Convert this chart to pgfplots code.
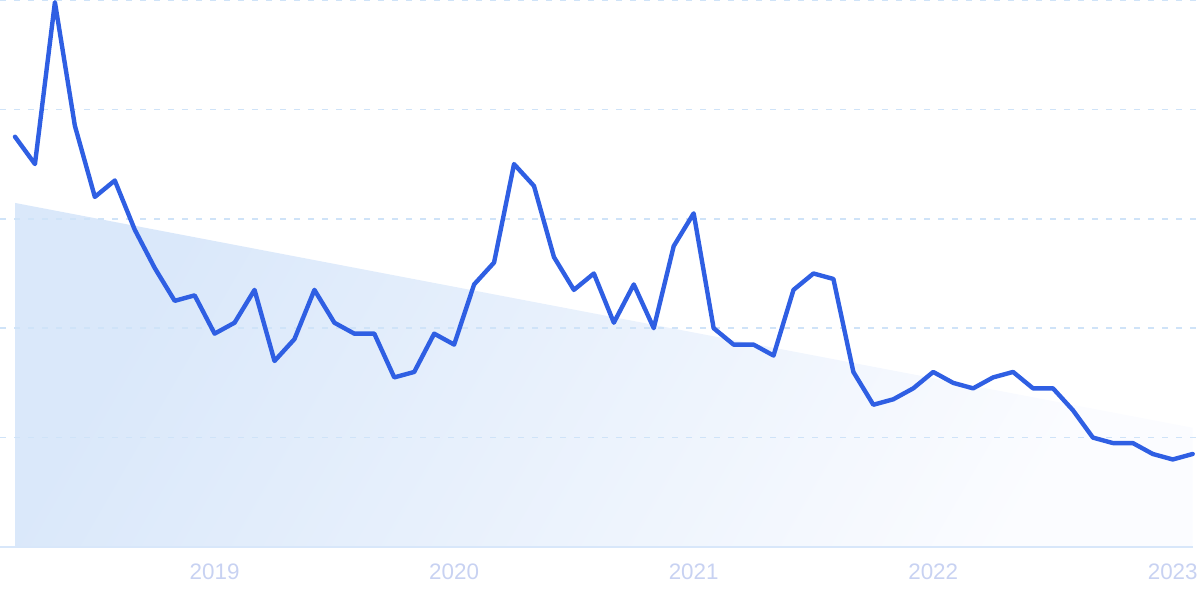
\documentclass[border=0pt]{standalone}
\usepackage{fontspec}
\setmainfont{Liberation Sans}
\usepackage{pgfplots}
\usepackage{pgfplotstable}
\pgfplotsset{compat=1.18}
\definecolor{linec}{HTML}{2F5FE3}
\definecolor{gridc}{HTML}{CFE3F8}
\definecolor{basec}{HTML}{D8E7FA}
\definecolor{labelc}{HTML}{C8D2F2}
\definecolor{areaA}{HTML}{DAE8FA}
\definecolor{areaB}{HTML}{FBFCFF}

\pgfplotstableread{
x y
0 75
1 70
2 99.6
3 77
4 64
5 67
6 58
7 51
8 45
9 46
10 39
11 41
12 47
13 34
14 38
15 47
16 41
17 39
18 39
19 31
20 32
21 39
22 37
23 48
24 52
25 70
26 66
27 53
28 47
29 50
30 41
31 48
32 40
33 55
34 61
35 40
36 37
37 37
38 35
39 47
40 50
41 49
42 32
43 26
44 27
45 29
46 32
47 30
48 29
49 31
50 32
51 29
52 29
53 25
54 20
55 19
56 19
57 17
58 16
59 17
}\datatable

\begin{document}
\begin{tikzpicture}
\begin{axis}[
  name=ax,
  scale only axis,
  width=600pt, height=299.5pt,
  xmin=-0.7515, xmax=59.366,
  ymin=-9.51, ymax=100,
  axis line style={draw=none},
  tick style={draw=none},
  ytick=\empty,
  xtick={10,22,34,46,58},
  xticklabels={2019,2020,2021,2022,2023},
  xticklabel style={anchor=base, yshift=9.85pt, font=\fontsize{11.2pt}{13pt}\selectfont, text=labelc},
]
\addplot[draw=none, top color=areaA, bottom color=areaB, shading angle=60, forget plot]
  coordinates {(0,0) (0,62.9) (59,21.8) (59,0)} -- cycle;
\foreach \g in {20,40,60,80,100} {
  \edef\temp{\noexpand\addplot[gridc, line width=0.75pt, dash pattern=on 3pt off 4pt, forget plot]
    coordinates {(-0.7515,\g) (59.366,\g)};}
  \temp
}
\addplot[basec, line width=1pt, forget plot] coordinates {(-0.7515,0) (59,0)};
\addplot[linec, line width=2.2pt, line join=round, line cap=round] table[x=x, y=y] {\datatable};
\end{axis}
\pgfresetboundingbox
\useasboundingbox (ax.south west) rectangle (ax.north east);
\end{tikzpicture}
\end{document}
